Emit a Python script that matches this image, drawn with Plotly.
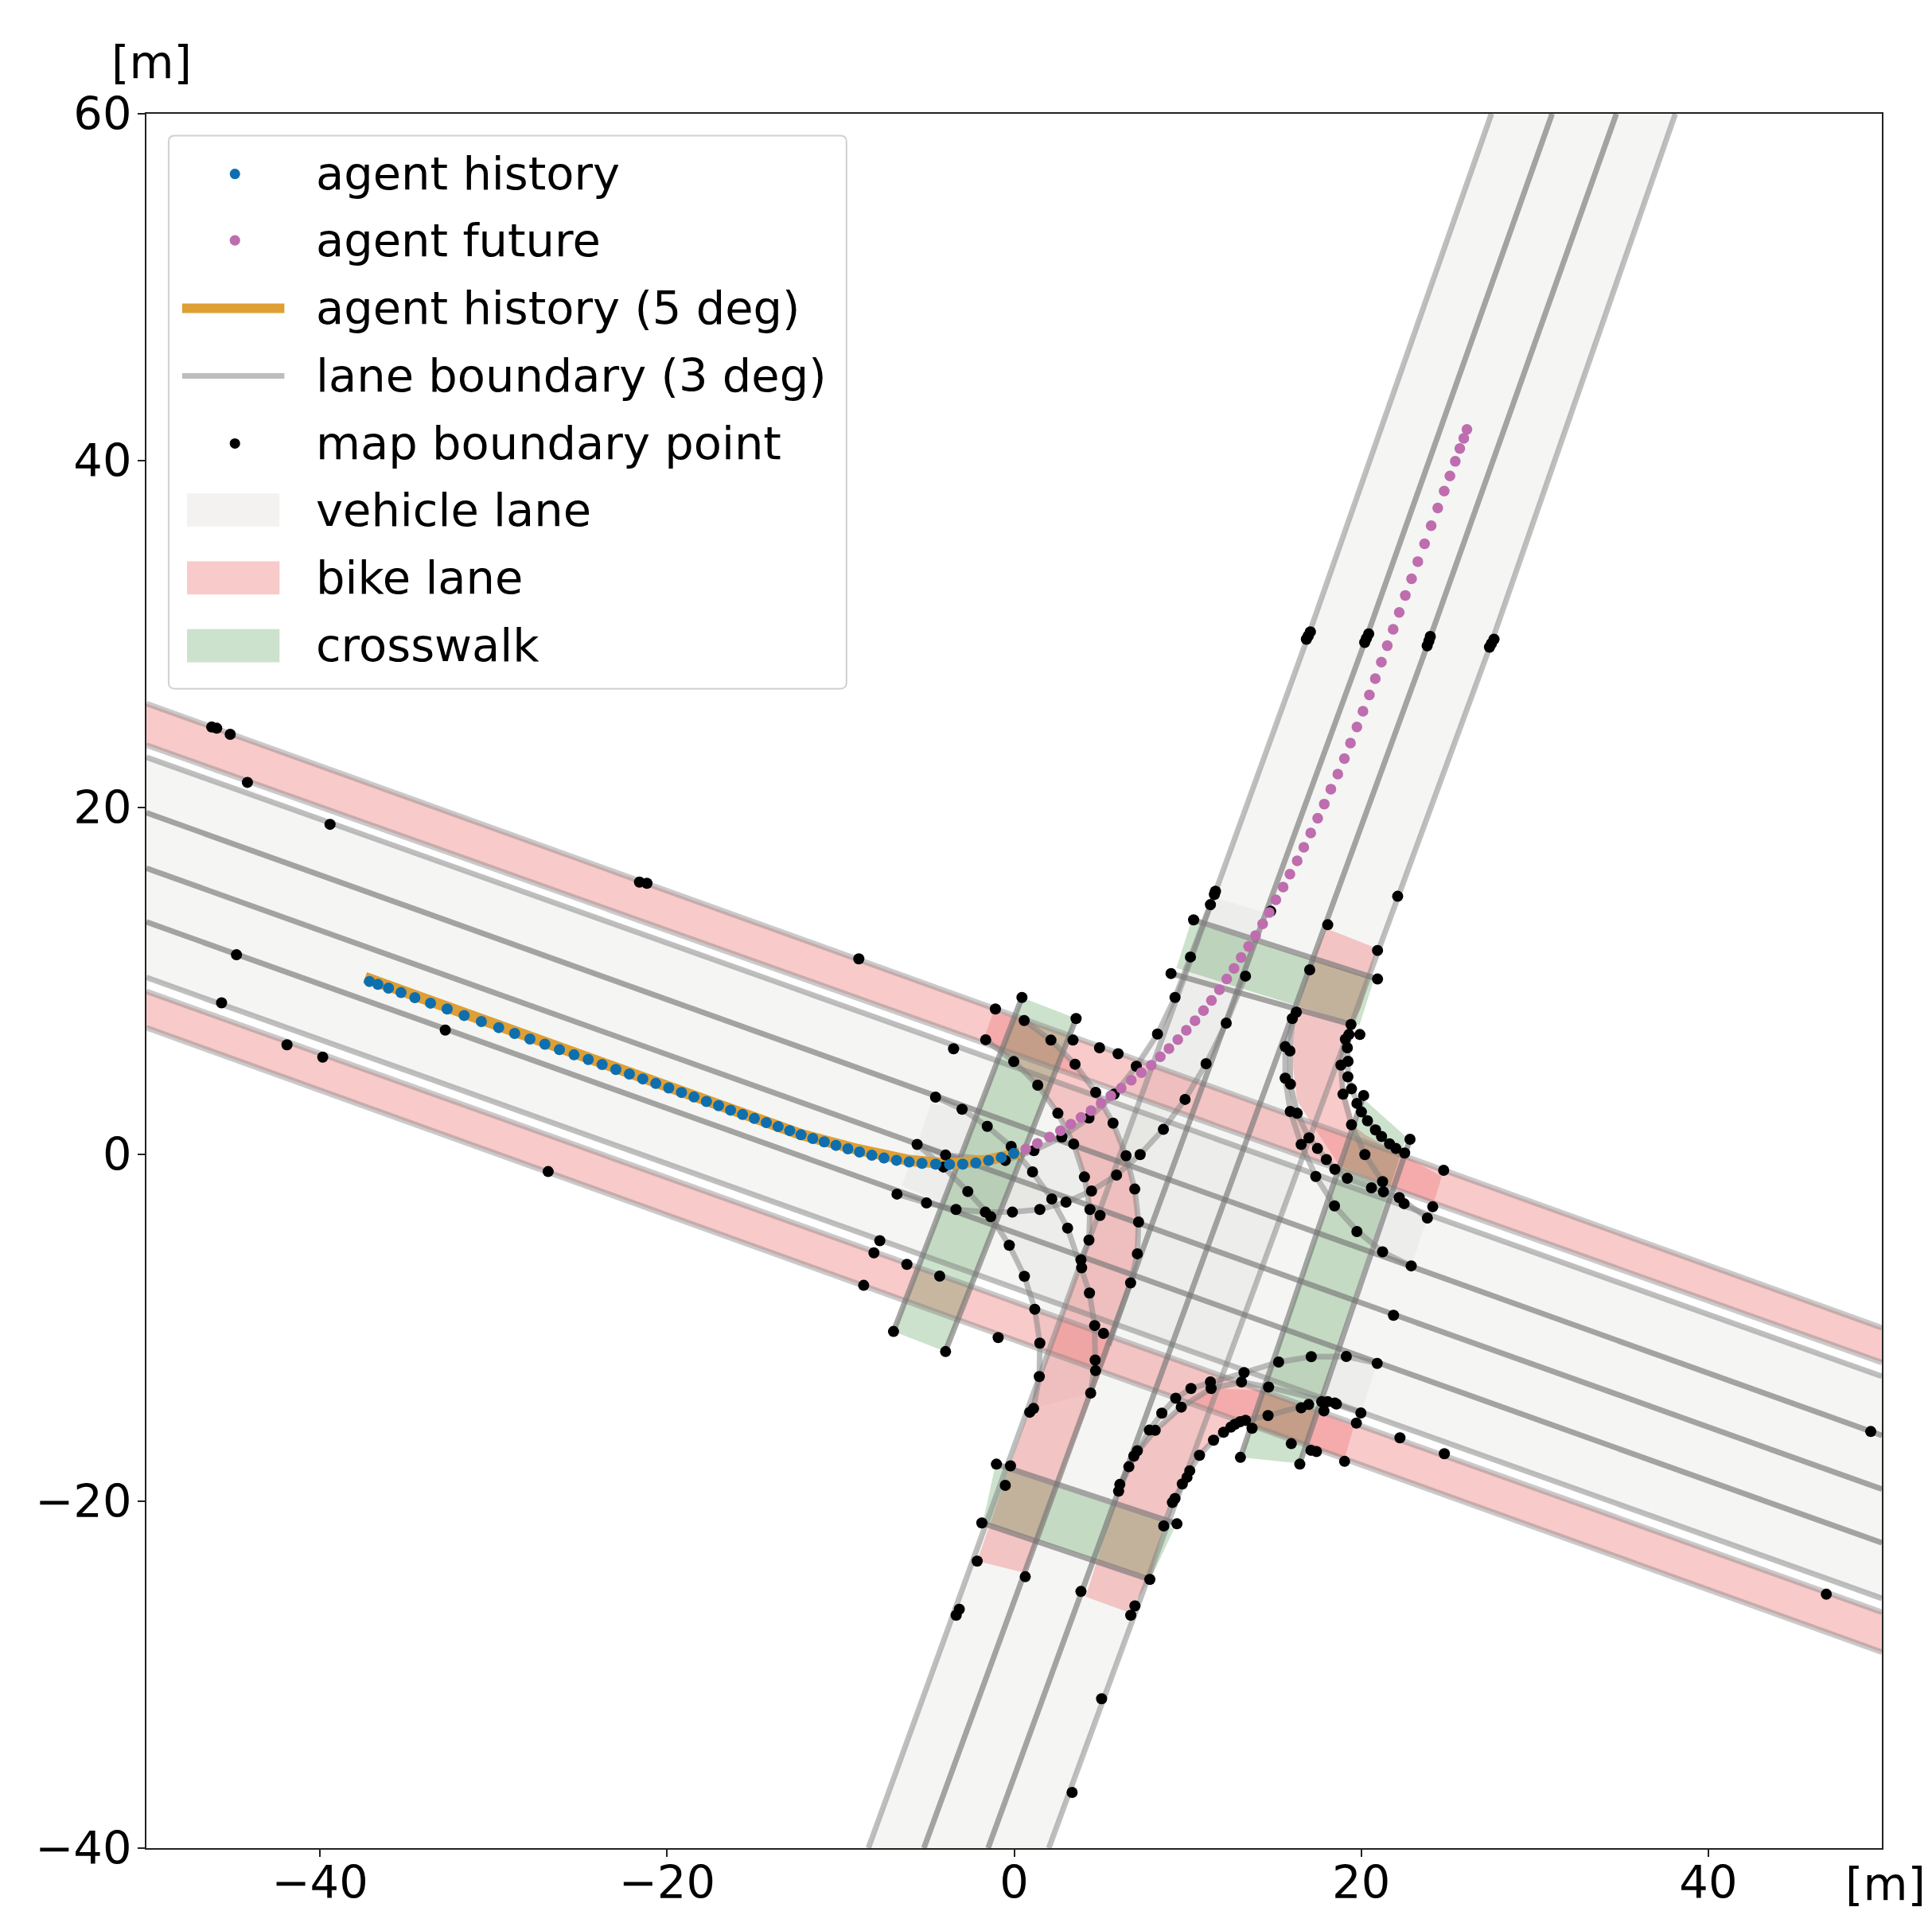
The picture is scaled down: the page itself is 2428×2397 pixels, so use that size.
import plotly.graph_objects as go

FONT = "DejaVu Sans"

history_pts = [(-37.15,9.97),(-36.66,9.80),(-36.05,9.59),(-35.33,9.33),(-34.53,9.04),(-33.63,8.72),(-32.67,8.38),(-31.69,8.01),(-30.70,7.66),(-29.70,7.31),(-28.78,6.97),(-27.90,6.65),(-27.04,6.35),(-26.20,6.04),(-25.36,5.74),(-24.54,5.47),(-23.74,5.18),(-22.95,4.90),(-22.17,4.63),(-21.40,4.35),(-20.65,4.09),(-19.90,3.83),(-19.17,3.57),(-18.45,3.31),(-17.73,3.05),(-17.03,2.81),(-16.34,2.55),(-15.65,2.30),(-14.97,2.07),(-14.28,1.83),(-13.60,1.60),(-12.93,1.37),(-12.28,1.13),(-11.60,0.92),(-10.94,0.72),(-10.27,0.52),(-9.58,0.32),(-8.91,0.14),(-8.20,-0.05),(-7.50,-0.21),(-6.78,-0.34),(-6.05,-0.44),(-5.31,-0.52),(-4.52,-0.56),(-3.72,-0.58),(-2.96,-0.56),(-2.21,-0.49),(-1.47,-0.35),(-0.74,-0.18),(-0.02,0.06)]
history_smooth = [(-37.4,10.2),(-33.6,8.85),(-30,7.55),(-27,6.45),(-24,5.33),(-20,3.9),(-16,2.45),(-12.3,1.15),(-9,0.28),(-6,-0.36),(-3.7,-0.55),(-1.5,-0.33),(0.33,0.1)]
future_pts = [(0.67,0.31),(1.34,0.63),(2.04,1.00),(2.67,1.36),(3.27,1.74),(3.85,2.13),(4.43,2.52),(5.01,2.95),(5.57,3.38),(6.17,3.82),(6.75,4.28),(7.33,4.71),(7.90,5.14),(8.42,5.63),(8.92,6.10),(9.43,6.62),(9.92,7.16),(10.42,7.71),(10.91,8.29),(11.37,8.88),(11.83,9.50),(12.25,10.11),(12.67,10.72),(13.08,11.35),(13.51,11.99),(13.91,12.62),(14.32,13.29),(14.70,13.95),(15.08,14.68),(15.50,15.41),(15.89,16.16),(16.31,16.93),(16.69,17.71),(17.09,18.53),(17.49,19.38),(17.87,20.20),(18.25,21.06),(18.65,21.93),(19.03,22.82),(19.38,23.72),(19.75,24.64),(20.10,25.55),(20.47,26.49),(20.81,27.43),(21.16,28.38),(21.50,29.33),(21.84,30.28),(22.19,31.25),(22.54,32.23),(22.90,33.19),(23.26,34.18),(23.65,35.21),(24.03,36.25),(24.41,37.27),(24.78,38.25),(25.11,39.12),(25.42,39.96),(25.68,40.70),(25.91,41.29),(26.09,41.80)]
map_points = [(-46.24,24.64),(-45.95,24.57),(-45.17,24.22),(-44.18,21.45),(-39.42,19.03),(-21.59,15.70),(-21.16,15.63),(-8.95,11.27),(-44.81,11.51),(-45.67,8.74),(-41.90,6.32),(-39.84,5.61),(-32.78,7.17),(-26.85,-0.99),
(17.07,30.13),(16.95,29.9),(16.84,29.70),(20.43,30.01),(20.3,29.75),(20.20,29.52),(23.98,29.86),(23.9,29.6),(23.80,29.32),(27.65,29.70),(27.5,29.45),(27.39,29.24),(22.10,14.88),(46.80,-25.36),(49.36,-15.98),(5.04,-31.39),(3.34,-36.79),(24.79,-17.26),(22.23,-16.34),
(24.12,-3.02),(23.81,-3.67),(19.75,-4.45),(21.23,-5.62),(22.88,-6.43),(21.86,-9.28),(19.14,-11.65),(20.92,-12.05),(18.57,-14.39),(19.98,-14.91),(19.72,-15.49),
(11.60,15.17),(11.54,14.99),(11.31,14.40),(10.34,13.52),(14.78,14.02),(18.07,13.24),(20.94,11.76),(10.16,11.38),(17.03,10.64),(20.94,10.11),(9.04,10.43),(13.33,10.28),(9.27,9.05),(16.26,8.20),(16.03,7.83),(12.22,7.57),(19.41,7.49),(19.29,6.91),(19.09,6.64),(19.92,6.91),(8.26,6.94),(19.20,6.15),(15.62,6.21),(15.89,5.96),(19.24,5.37),(18.83,5.15),(11.06,5.23),(19.23,4.47),(15.62,4.39),(15.92,4.05),(19.44,3.78),(18.95,3.47),(20.14,3.40),(19.75,2.94),(9.85,3.17),(20.01,2.45),(15.91,2.48),(16.31,2.37),(20.36,1.94),(19.44,1.71),(20.82,1.41),(21.17,1.03),(22.81,0.87),(16.99,0.95),(16.54,0.57),(17.48,0.34),(21.63,0.61),(22.00,0.34),(22.50,0.08),(20.21,-0.01),(17.99,-0.30),(18.48,-0.86),(24.75,-0.92),(19.20,-1.38),(17.38,-1.27),(21.23,-1.57),(20.59,-1.93),(21.28,-2.16),(22.19,-2.49),(22.47,-2.84),(18.46,-2.97),(8.60,1.44),
(0.45,9.05),(-1.08,8.38),(3.57,7.83),(0.58,7.72),(-1.64,6.61),(2.12,6.59),(3.39,6.59),(4.92,6.15),(5.99,5.80),(-3.49,6.09),(-0.02,5.35),(3.51,5.20),(7.04,5.08),(1.36,3.99),(4.70,3.58),(5.76,3.47),(-4.53,3.30),(-3.00,2.60),(2.52,2.37),(-1.55,1.62),(4.31,2.10),(5.70,1.80),(-5.59,0.57),(-0.17,0.46),(2.75,1.00),(3.43,0.60),(1.14,0.22),(-3.95,-0.04),(6.45,-0.08),(7.26,-0.01),(-0.51,-0.35),(-4.07,-0.73),(1.06,-1.01),(4.05,-1.30),(5.90,-1.19),(6.95,-2.00),(4.46,-2.11),(-2.67,-2.14),(-6.75,-2.29),(-5.05,-2.80),(2.17,-2.57),(2.99,-2.75),(-3.35,-3.18),(-1.66,-3.33),(-1.35,-3.59),(-0.10,-3.33),(1.48,-3.18),(4.37,-3.18),(4.95,-3.52),(7.17,-3.90),(3.08,-4.25),
(4.31,-4.94),(7.10,-5.73),(-0.28,-5.24),(3.85,-6.08),(3.89,-6.54),(6.71,-7.41),(0.59,-7.03),(-4.29,-7.02),(4.34,-7.99),(1.19,-8.93),(4.64,-9.87),(5.15,-10.32),(-0.92,-10.56),(1.48,-10.88),(-3.95,-11.37),(4.67,-11.86),(4.69,-12.47),(1.45,-12.81),(4.41,-13.76),(1.12,-14.65),(0.90,-14.87),
(15.24,-11.97),(17.12,-11.66),(13.25,-12.58),(13.10,-13.12),(11.31,-13.12),(11.35,-13.50),(14.66,-13.42),(10.19,-13.50),(9.31,-14.06),(9.63,-14.57),(8.51,-14.92),(16.97,-14.42),(16.54,-14.61),(14.63,-15.06),(13.33,-15.33),(13.02,-15.41),(12.72,-15.56),(12.49,-15.72),(13.71,-15.79),(12.07,-16.02),(7.79,-15.90),(8.13,-15.91),(11.49,-16.48),(15.97,-16.68),(17.10,-17.06),(17.42,-17.13),(7.10,-17.09),(6.90,-17.40),(10.68,-17.35),(13.04,-17.47),(16.46,-17.86),(-1.02,-17.86),(-0.21,-17.96),(6.61,-18.01),(10.12,-18.24),(9.96,-18.62),(9.69,-19.00),(-0.51,-19.08),(6.09,-19.03),(6.02,-19.42),(9.27,-19.84),(9.12,-20.07),(8.62,-21.42),(9.38,-21.30),(-1.86,-21.25),(-2.13,-23.45),(7.82,-24.51),(0.64,-24.35),(3.85,-25.2),
(-3.16,-26.23),(-3.34,-26.57),(6.96,-26.03),(6.72,-26.57),(19.04,-17.70),(17.72,-14.26),(18.07,-14.26),(18.48,-14.34),(17.85,-14.79),
(-7.74,-4.98),(-8.08,-5.68),(-6.18,-6.34),(-8.67,-7.55),(-6.95,-10.21)]

ew_light = [[(-50,22.9),(50,-12.8)],[(-50,10.2),(50,-25.6)]]
ew_dark = [[(-50,19.7),(50,-16.2)],[(-50,16.5),(50,-19.3)],[(-50,13.4),(50,-22.4)]]
bike_edges = [[(-50,26.0),(50,-10.0)],[(-50,23.6),(50,-12.0)],[(-50,9.4),(50,-26.4)],[(-50,7.3),(50,-28.7)]]
ns_left = [(-8.4,-40),(16.95,29.9),(27.5,60)]
ns_2 = [(-5.2,-40),(20.3,29.8),(31,60)]
ns_3 = [(-1.5,-40),(23.9,29.6),(34.7,60)]
ns_right = [(2.0,-40),(27.5,29.5),(38.1,60)]

curve_a = [(-4.53,3.30),(-3.00,2.60),(-1.55,1.62),(-0.17,0.46),(1.06,-1.01),(2.17,-2.57),(3.08,-4.25),(3.89,-6.54),(4.34,-7.99),(4.64,-9.87),(4.67,-11.86),(4.41,-13.76)]
curve_b = [(-6.75,-2.29),(-5.05,-2.80),(-3.35,-3.18),(-1.66,-3.33),(-0.10,-3.33),(1.48,-3.18),(2.99,-2.75),(4.46,-2.11),(5.90,-1.19),(7.26,-0.01),(8.59,1.44),(9.85,3.17),(11.06,5.23),(12.22,7.57),(13.33,10.28)]
curve_c = [(-5.59,0.57),(-4.07,-0.73),(-2.67,-2.14),(-1.35,-3.59),(-0.28,-5.24),(0.59,-7.03),(1.19,-8.93),(1.48,-10.88),(1.45,-12.81),(1.12,-14.65)]
curve_d = [(-5.59,0.57),(-3.95,-0.04),(-0.51,-0.35),(1.14,0.22),(2.75,1.00),(4.31,2.10),(5.76,3.47),(7.04,5.08),(8.26,6.94),(9.27,9.05),(10.16,11.38),(11.31,14.40)]
curve_e = [(-1.64,6.61),(-0.02,5.35),(1.36,3.99),(2.52,2.37),(3.43,0.60),(4.05,-1.30),(4.37,-3.18),(4.31,-4.94),(3.85,-6.08)]
curve_f = [(0.58,7.72),(2.12,6.59),(3.51,5.20),(4.70,3.58),(5.70,1.80),(6.45,-0.08),(6.95,-2.00),(7.17,-3.90),(7.10,-5.73),(6.71,-7.41),(5.45,-11.0)]
curve_i = [(20.92,-12.05),(19.14,-11.65),(17.12,-11.66),(15.24,-11.97),(13.25,-12.58),(11.31,-13.12),(10.19,-13.50),(9.31,-14.06),(8.51,-14.92),(7.79,-15.90),(7.10,-17.09),(6.61,-18.01),(6.09,-19.03)]
curve_j = [(19.98,-14.91),(18.07,-14.26),(14.66,-13.42),(13.10,-13.12),(11.35,-13.50),(9.63,-14.57),(8.13,-15.91),(6.90,-17.40),(6.02,-19.42)]
curve_k = [(16.97,-14.42),(14.63,-15.06),(13.33,-15.33),(12.49,-15.72),(11.49,-16.48),(10.68,-17.35),(10.12,-18.24),(9.69,-19.00),(9.12,-20.07),(8.62,-21.42)]
curve_l = [(16.26,8.20),(15.62,6.21),(15.62,4.39),(15.91,2.48),(16.54,0.57),(17.38,-1.27),(18.46,-2.97),(19.75,-4.40),(21.23,-5.62),(22.88,-6.43)]
curve_m = [(16.03,7.83),(15.89,5.96),(15.92,4.05),(16.31,2.37),(16.99,0.95),(17.48,0.34),(17.99,-0.30),(18.48,-0.86),(19.20,-1.38),(20.59,-1.93),(22.19,-2.49),(23.81,-3.67)]
curve_n = [(19.41,7.49),(19.29,6.91),(19.20,6.15),(19.24,5.37),(19.23,4.47),(19.44,3.78),(20.01,2.45),(20.36,1.94),(20.82,1.41),(21.63,0.61),(22.50,0.08)]
curve_o = [(19.09,6.64),(18.83,5.15),(18.95,3.47),(19.44,1.71),(20.21,-0.01),(21.23,-1.57),(21.28,-2.16)]

cross_edges = [[(0.45,9.05),(-6.95,-10.21)],[(3.57,7.83),(-3.97,-11.37)],[(10.34,13.52),(20.94,10.11)],[(9.04,10.43),(19.41,7.49)],[(20.14,3.40),(13.04,-17.47)],[(22.81,0.87),(16.46,-17.82)],[(-1.02,-17.86),(9.38,-21.30)],[(-1.86,-21.25),(7.82,-24.51)]]

vehicle_polys = [
    [(-50,22.9),(50,-12.8),(50,-25.6),(-50,10.2)],
    [(-8.4,-40),(16.95,29.9),(27.5,60),(38.1,60),(27.5,29.5),(2.0,-40)],
    [(-4.79,2.94),(-3.0,2.6),(-0.17,0.46),(2.17,-2.57),(3.89,-6.54),(4.64,-9.87),(4.41,-13.76),(1.12,-14.65),(1.48,-10.88),(0.59,-7.03),(-1.35,-3.59),(-3.2,-1.6),(-5.59,0.57)],
    [(-5.59,0.57),(-3.95,-0.04),(-0.51,-0.35),(2.75,1.00),(5.76,3.47),(8.26,6.94),(10.16,11.38),(11.34,14.86),(14.47,13.95),(13.33,10.28),(11.06,5.23),(8.59,1.44),(5.90,-1.19),(2.99,-2.75),(-0.10,-3.33),(-3.35,-3.18),(-6.47,-1.80)],
    [(16.26,8.20),(15.62,4.39),(16.54,0.57),(18.46,-2.97),(21.23,-5.62),(22.88,-6.43),(23.81,-3.67),(22.19,-2.49),(19.20,-1.38),(17.48,0.34),(16.31,2.37),(15.89,5.96),(16.03,7.83)],
    [(20.92,-12.05),(17.12,-11.66),(13.25,-12.58),(10.19,-13.50),(8.51,-14.92),(7.10,-17.09),(6.09,-19.03),(6.02,-19.42),(8.13,-15.91),(11.35,-13.50),(14.66,-13.42),(19.98,-14.91)],
]
bike_polys = [
    [(-50,26.0),(50,-10.0),(50,-12.0),(-50,23.6)],
    [(-50,9.4),(50,-26.4),(50,-28.7),(-50,7.3)],
    [(0.64,-24.13),(2.55,-18.93),(5.45,-11.43),(6.98,-6.08),(7.17,-3.90),(6.95,-2.00),(6.45,-0.08),(5.70,1.80),(4.70,3.58),(3.51,5.20),(2.12,6.59),(0.58,7.72),(-1.2,8.2),(-1.74,6.7),(-0.02,5.35),(1.36,3.99),(2.52,2.37),(3.43,0.60),(4.05,-1.30),(4.37,-3.18),(4.31,-4.94),(3.85,-6.08),(-2.13,-23.45)],
    [(4.12,-25.5),(6.58,-26.4),(7.82,-24.51),(8.62,-21.42),(9.12,-20.07),(9.69,-19.00),(10.12,-18.24),(10.68,-17.35),(11.49,-16.48),(12.07,-16.02),(12.72,-15.56),(13.33,-15.60),(19.04,-17.55),(19.57,-15.7),(14.17,-13.6),(11.35,-13.50),(9.63,-14.57),(8.13,-15.91),(6.90,-17.40),(6.02,-19.42)],
    [(17.99,13.03),(20.89,11.88),(19.98,8.44),(19.44,7.45),(19.06,6.15),(18.90,5.08),(19.06,3.85),(19.67,1.56),(20.28,1.10),(24.64,-1.27),(24.18,-2.80),(18.75,-0.66),(17.38,1.41),(16.31,3.09),(16.03,5.38),(16.15,7.68),(17.07,11.04)],
]
cross_polys = [
    [(0.45,9.05),(3.57,7.83),(-3.97,-11.37),(-6.95,-10.21)],
    [(10.19,13.4),(20.74,10.1),(19.9,7.45),(9.35,10.75)],
    [(20.14,3.2),(22.6,1.0),(16.46,-17.82),(13.04,-17.47)],
    [(-1.1,-18.0),(8.63,-21.2),(9.21,-21.6),(7.9,-24.4),(-1.8,-21.2)],
]

leg_labels = ["agent history","agent future","agent history (5 deg)","lane boundary (3 deg)","map boundary point","vehicle lane","bike lane","crosswalk"]
leg_rows = [56.53,52.70,48.79,44.89,40.99,37.15,33.24,29.33]
x_ticks = [-40,-20,0,20,40]
y_ticks = [-40,-20,0,20,40,60]

VEH = "rgba(211,208,205,0.22)"
BIKE = "rgba(240,128,128,0.42)"
CROSS = "rgba(0,110,0,0.2)"
LIGHT = "rgba(128,128,128,0.5)"
DARK = "rgba(115,115,115,0.64)"
ORANGE = "#DE9F35"
BLUE = "#0F6FAE"
PURPLE = "#BE6DAE"
LW = 7
TXT = 57.5

fig = go.Figure()

def poly(pts, fill, name):
    fig.add_trace(go.Scatter(x=[p[0] for p in pts], y=[p[1] for p in pts], mode="lines",
                             fill="toself", fillcolor=fill, line=dict(width=0), name=name,
                             showlegend=False, hoverinfo="skip"))

def line(pts, color, name, width=LW):
    fig.add_trace(go.Scatter(x=[p[0] for p in pts], y=[p[1] for p in pts], mode="lines",
                             line=dict(color=color, width=width), name=name,
                             showlegend=False, hoverinfo="skip"))

for p in vehicle_polys:
    poly(p, VEH, "vehicle lane")
for p in bike_polys:
    poly(p, BIKE, "bike lane")
for p in cross_polys:
    poly(p, CROSS, "crosswalk")

for l in bike_edges:
    line(l, "rgba(128,128,128,0.42)", "lane boundary (3 deg)")
for l in ew_light + [ns_left, ns_right]:
    line(l, LIGHT, "lane boundary (3 deg)")
for l in ew_dark + [ns_2, ns_3]:
    line(l, DARK, "lane boundary (3 deg)")
for l in cross_edges:
    line(l, DARK, "lane boundary (3 deg)")
for l in [curve_a, curve_b, curve_c, curve_d, curve_e, curve_f, curve_i, curve_j, curve_k, curve_l, curve_m, curve_n, curve_o]:
    line(l, LIGHT, "lane boundary (3 deg)")

line(history_smooth, ORANGE, "agent history (5 deg)", 14)

def dots(pts, color, size, name):
    fig.add_trace(go.Scatter(x=[p[0] for p in pts], y=[p[1] for p in pts], mode="markers",
                             marker=dict(color=color, size=size, line=dict(width=0)), name=name,
                             showlegend=False))

dots(map_points, "black", 14, "map boundary point")
dots(future_pts, PURPLE, 13.5, "agent future")
dots(history_pts, BLUE, 14, "agent history")

shapes = []
bx0, bx1, by0, by1, r = -48.72, -9.66, 26.85, 58.74, 0.35
shapes.append(dict(type="path", xref="x", yref="y",
    path=f"M{bx0+r},{by0} L{bx1-r},{by0} Q{bx1},{by0} {bx1},{by0+r} L{bx1},{by1-r} Q{bx1},{by1} {bx1-r},{by1} "
         f"L{bx0+r},{by1} Q{bx0},{by1} {bx0},{by1-r} L{bx0},{by0+r} Q{bx0},{by0} {bx0+r},{by0} Z",
    fillcolor="rgba(255,255,255,0.85)", line=dict(color="rgba(204,204,204,0.9)", width=2), layer="above"))
cx = -44.9
def circ(yc, color):
    shapes.append(dict(type="circle", xref="x", yref="y", x0=cx-0.3, x1=cx+0.3, y0=yc-0.3, y1=yc+0.3,
                       fillcolor=color, line=dict(width=0), layer="above"))
def hline(yc, color, w):
    shapes.append(dict(type="line", xref="x", yref="y", x0=-47.94, x1=-42.05, y0=yc, y1=yc,
                       line=dict(color=color, width=w), layer="above"))
def rect(yc, color):
    shapes.append(dict(type="rect", xref="x", yref="y", x0=-47.66, x1=-42.33, y0=yc-0.96, y1=yc+0.96,
                       fillcolor=color, line=dict(width=0), layer="above"))
circ(leg_rows[0], BLUE)
circ(leg_rows[1], PURPLE)
hline(leg_rows[2], ORANGE, 12)
hline(leg_rows[3], "#BDBDBD", 7)
circ(leg_rows[4], "black")
rect(leg_rows[5], "rgba(225,222,218,0.38)")
rect(leg_rows[6], BIKE)
rect(leg_rows[7], CROSS)

annotations = [dict(x=-40.34, y=yr, xref="x", yref="y", text=t, showarrow=False, xanchor="left", yanchor="middle",
                    font=dict(family=FONT, size=TXT, color="black")) for t, yr in zip(leg_labels, leg_rows)]
annotations.append(dict(x=0.003, y=1.0298, xref="paper", yref="paper", text="[m]", showarrow=False, xanchor="center", yanchor="middle",
                        font=dict(family=FONT, size=TXT, color="black")))
annotations.append(dict(x=1.002, y=-0.0211, xref="paper", yref="paper", text="[m]", showarrow=False, xanchor="center", yanchor="middle",
                        font=dict(family=FONT, size=TXT, color="black")))

axis = dict(showgrid=False, zeroline=False, showline=True, mirror=True, linecolor="#222222", linewidth=2,
            ticks="outside", ticklen=9, tickwidth=2, tickcolor="#222222", automargin=False,
            tickfont=dict(family=FONT, size=TXT, color="black"))
fig.update_layout(
    width=2420, height=2389, autosize=False, showlegend=False,
    paper_bgcolor="white", plot_bgcolor="white",
    margin=dict(l=176.3, r=63, t=134.5, b=74),
    xaxis=dict(range=[-50,50], tickvals=x_ticks, ticklabelstandoff=-17, **axis),
    yaxis=dict(range=[-40,60], tickvals=y_ticks, ticklabelstandoff=-4, **axis),
    shapes=shapes, annotations=annotations,
)
fig.write_html("out.html")
